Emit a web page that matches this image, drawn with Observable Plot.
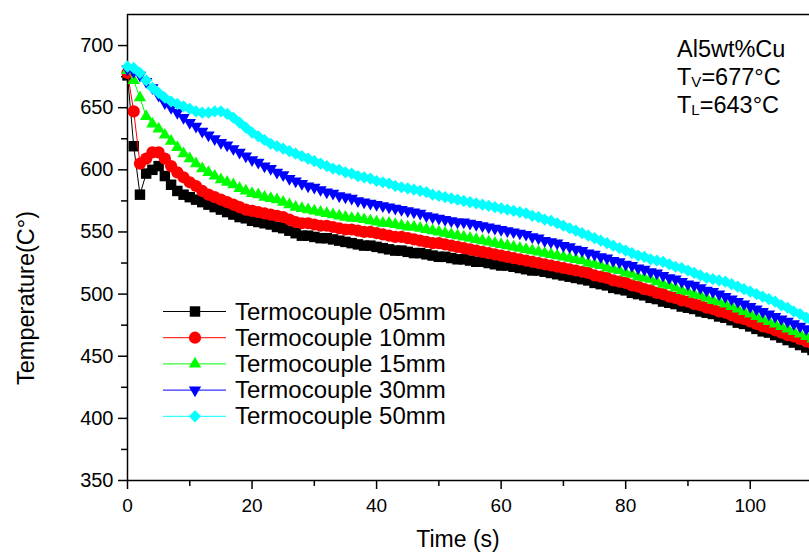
<!DOCTYPE html>
<html><head><meta charset="utf-8">
<script src="https://cdn.jsdelivr.net/npm/d3@7"></script>
<script src="https://cdn.jsdelivr.net/npm/@observablehq/plot@0.6"></script>
<style>
html,body{margin:0;padding:0;background:#fff;}
#wrap{position:relative;width:809px;height:552px;overflow:hidden;background:#fff;}
#wrap svg{position:absolute;left:0;top:0;}
</style></head><body><div id="wrap"></div>
<script>
// Time (s)
const time = [0,1,2,3,4,5,6,7,8,9,10,11,12,13,14,15,16,17,18,19,20,21,22,23,24,25,26,27,28,29,30,31,32,33,34,35,36,37,38,39,40,41,42,43,44,45,46,47,48,49,50,51,52,53,54,55,56,57,58,59,60,61,62,63,64,65,66,67,68,69,70,71,72,73,74,75,76,77,78,79,80,81,82,83,84,85,86,87,88,89,90,91,92,93,94,95,96,97,98,99,100,101,102,103,104,105,106,107,108,109,110];
// Temperatures (°C)
const tc05 = [676,619,580,597,600,603,595,588,583,580,578,576,574,572,570,568,566,564,562,561,559,558,557,556,554,553,551,549,547,547,546,545,545,544,543,542,541,540,539,539,538,537,536,535,535,534,533,533,532,531,530,530,529,528,528,527,526,526,525,524,523,523,522,521,520,519,519,518,517,516,515,514,513,512,511,509,508,507,505,504,503,501,500,499,497,496,494,493,492,490,489,488,486,485,484,482,481,479,477,476,474,472,470,469,467,465,463,461,459,457,455];
const tc10 = [678,647,605,609,614,614,609,603,598,594,590,587,583,580,578,576,574,572,570,568,567,566,565,564,563,562,560,558,557,557,556,555,555,554,553,552,552,551,550,550,549,548,547,546,546,545,544,543,542,541,541,540,539,538,537,536,535,534,533,532,531,530,529,528,527,526,525,524,523,522,521,520,519,518,517,515,514,513,511,510,509,507,506,504,503,501,500,498,497,495,494,492,491,489,488,486,485,483,481,480,478,476,474,473,471,469,467,466,464,462,460];
const tc15 = [680,672,658,643,637,633,628,623,618,613,609,605,601,598,595,592,590,588,585,583,581,580,578,577,576,574,572,570,569,568,567,566,565,564,563,562,561,561,560,559,558,557,557,556,555,554,554,553,552,551,550,549,548,547,546,545,544,543,542,541,540,539,538,537,536,535,534,533,532,531,530,529,528,527,525,524,523,521,520,519,517,516,514,513,512,510,508,507,505,503,502,500,499,497,495,494,492,490,488,486,484,482,480,478,476,474,472,470,468,466,464];
const tc30 = [681,679,676,671,666,660,654,650,646,642,638,635,631,628,625,622,620,617,614,611,608,606,603,601,598,596,593,591,589,587,586,584,582,581,579,578,577,575,574,573,572,571,570,569,568,567,566,565,563,562,561,560,559,558,558,557,556,555,554,553,552,551,550,549,548,546,545,543,542,541,539,538,536,535,533,532,530,529,527,526,524,523,521,520,518,517,515,513,512,510,508,507,505,503,502,500,498,496,494,492,490,488,486,484,482,480,478,476,474,472,470];
const tc50 = [683,682,678,672,666,662,658,655,653,651,649,647,646,646,647,647,645,642,638,634,630,627,624,621,619,617,615,613,611,609,607,605,603,601,600,598,597,595,594,593,591,590,589,587,586,585,584,583,582,580,579,578,577,576,575,574,573,572,571,570,569,568,567,566,565,563,562,560,559,557,555,553,551,549,547,545,543,541,539,537,535,533,531,530,528,527,526,524,522,521,519,517,515,513,512,511,510,508,506,504,502,500,498,496,494,491,489,486,484,481,478];

const seriesNames = ["Termocouple 05mm","Termocouple 10mm","Termocouple 15mm","Termocouple 30mm","Termocouple 50mm"];
const seriesValues = [tc05, tc10, tc15, tc30, tc50];
const seriesColors = ["#000000","#ff0000","#00ff00","#0000ff","#00ffff"];
const seriesSymbols = ["square","circle","triangle","triangle","diamond2"];
const seriesR = [5.9, 6.1, 4.6, 4.6, 5.5];
const seriesRotate = [0, 0, 0, 180, 0];

const yMajor = [350,400,450,500,550,600,650,700];
const yMinor = [375,425,475,525,575,625,675];
const xMajor = [0,20,40,60,80,100];
const xMinor = [10,30,50,70,90];

const xTitle = "Time (s)";
const yTitle = "Temperature(C°)";
const noteTitle = "Al5wt%Cu";
const noteLines = [{base:"T", sub:"V", rest:"=677°C"}, {base:"T", sub:"L", rest:"=643°C"}];

const FONT = "'Liberation Sans', Arial, Helvetica, sans-serif";

const rows = seriesNames.map((name, i) => time.map((t, j) => ({series: name, t, v: seriesValues[i][j]})));

const marks = [
  Plot.ruleY([725], {stroke: "#000", strokeWidth: 1.5}),
  Plot.ruleY([350], {stroke: "#000", strokeWidth: 1.5}),
  Plot.ruleX([0], {stroke: "#000", strokeWidth: 1.5}),
  Plot.axisY(yMajor, {tickSize: 9, tickPadding: 5, fontSize: 20, label: null, strokeWidth: 1.5}),
  Plot.axisY(yMinor, {tickSize: 6, tickFormat: () => "", label: null, strokeWidth: 1.5}),
  Plot.axisX(xMajor, {tickSize: 9, tickPadding: 9, fontSize: 19, label: null, strokeWidth: 1.5}),
  Plot.axisX(xMinor, {tickSize: 6, tickFormat: () => "", label: null, strokeWidth: 1.5})
];
seriesNames.forEach((name, i) => {
  marks.push(Plot.line(rows[i], {x: "t", y: "v", stroke: seriesColors[i], strokeWidth: 1}));
  marks.push(Plot.dot(rows[i], {x: "t", y: "v", symbol: seriesSymbols[i], r: seriesR[i], fill: seriesColors[i], stroke: "none", rotate: seriesRotate[i]}));
});

const chart = Plot.plot({
  width: 809,
  height: 552,
  marginLeft: 127,
  marginRight: 0,
  marginTop: 14,
  marginBottom: 72,
  style: {fontFamily: FONT, fontSize: "19px", color: "#000", background: "#fff"},
  x: {domain: [0, 110], range: [127, 812]},
  y: {domain: [350, 725], range: [480, 14]},
  marks
});
const wrap = document.getElementById("wrap");
wrap.appendChild(chart);

// Overlay: titles, annotation, legend
const ov = d3.select(wrap).append("svg").attr("width", 809).attr("height", 552)
  .style("font-family", FONT).style("pointer-events", "none");

ov.append("text").attr("x", 458).attr("y", 547).attr("text-anchor", "middle")
  .style("font-size", "23px").text(xTitle);
ov.append("text").attr("transform", "translate(34,298) rotate(-90)").attr("text-anchor", "middle")
  .style("font-size", "23.5px").text(yTitle);

ov.append("text").attr("x", 677).attr("y", 57).style("font-size", "23.5px").text(noteTitle);
noteLines.forEach((n, i) => {
  const tx = ov.append("text").attr("x", 677).attr("y", 85 + 28.3 * i).style("font-size", "23.5px");
  tx.append("tspan").text(n.base);
  tx.append("tspan").attr("dy", 2).style("font-size", "15px").text(n.sub);
  tx.append("tspan").attr("dy", -2).text(n.rest);
});

const symMap = {square: d3.symbolSquare, circle: d3.symbolCircle, triangle: d3.symbolTriangle, diamond2: d3.symbolDiamond2};
seriesNames.forEach((name, i) => {
  const y = 311.5 + 26.2 * i;
  ov.append("line").attr("x1", 163).attr("x2", 226).attr("y1", y).attr("y2", y)
    .attr("stroke", seriesColors[i]).attr("stroke-width", 1);
  ov.append("path")
    .attr("d", d3.symbol(symMap[seriesSymbols[i]], Math.PI * seriesR[i] * seriesR[i])())
    .attr("transform", `translate(195,${y}) rotate(${seriesRotate[i]})`)
    .attr("fill", seriesColors[i]);
  ov.append("text").attr("x", 235).attr("y", y + 8).style("font-size", "24px").text(name);
});
</script></body></html>
